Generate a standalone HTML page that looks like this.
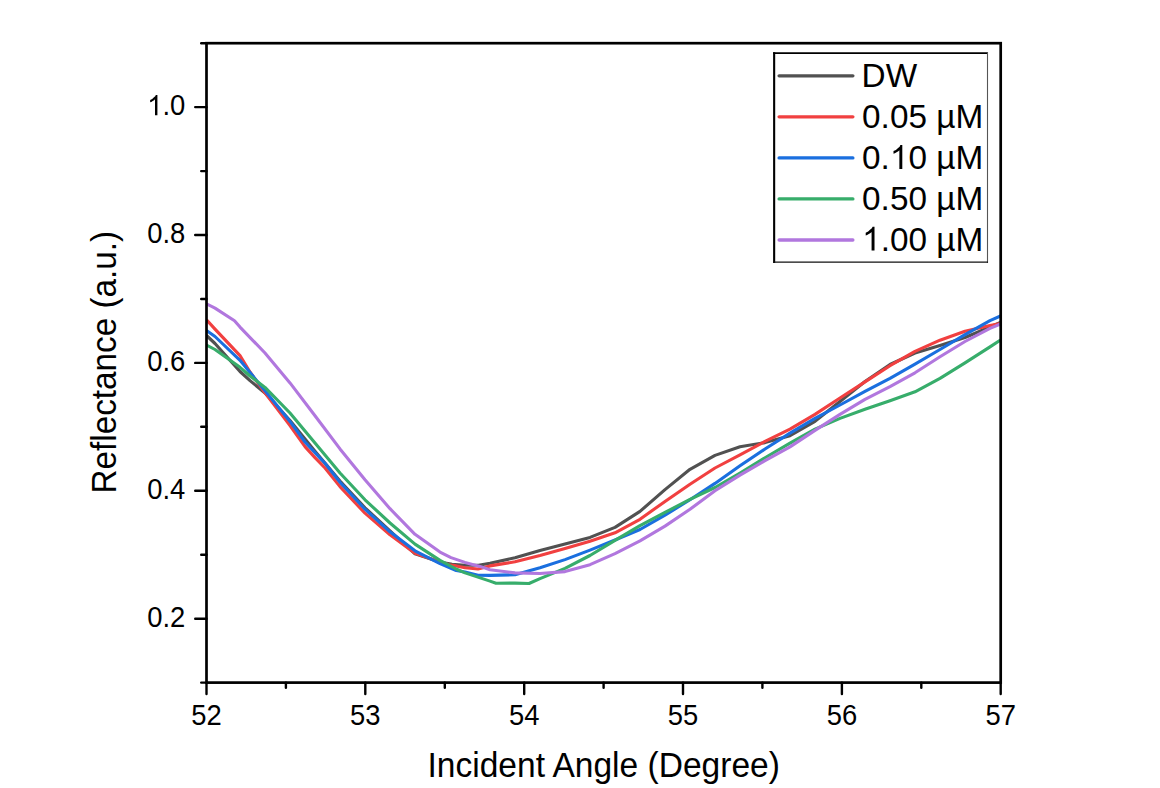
<!DOCTYPE html>
<html><head><meta charset="utf-8"><style>
html,body{margin:0;padding:0;background:#fff;overflow:hidden;}
svg{display:block;}
text{font-family:"Liberation Sans",sans-serif;fill:#000;}
.tk{font-size:29.0px;}
.ti{font-size:34.7px;}
.lg{font-size:34.1px;}
</style></head><body>
<svg width="1160" height="788" viewBox="0 0 1160 788">
<defs><clipPath id="c"><rect x="206.5" y="43.2" width="794.2" height="639.4"/></clipPath></defs>
<rect x="0" y="0" width="1160" height="788" fill="#fff"/>
<g fill="none" stroke-width="3.1" stroke-linejoin="round" stroke-linecap="butt" clip-path="url(#c)">
<polyline stroke="#515151" points="206.5,335.5 215.0,343.5 240.0,371.5 250.0,380.6 265.0,393.0 290.0,420.5 315.0,451.3 340.0,481.0 365.0,507.8 390.0,530.8 415.0,553.8 440.0,562.0 452.0,564.3 465.0,565.3 478.6,565.2 490.0,563.3 515.0,557.7 540.0,550.4 565.0,544.0 590.0,537.4 615.0,527.4 640.0,511.4 665.0,489.6 690.0,469.3 715.0,455.4 740.0,446.7 765.0,442.6 790.0,435.7 815.0,421.3 840.0,401.5 865.0,381.5 890.0,364.5 915.0,353.0 940.0,345.5 965.0,337.5 990.0,327.0 1000.5,322.3"/>
<polyline stroke="#F14040" points="206.5,319.7 215.0,329.1 240.0,355.6 250.0,372.0 265.0,392.8 290.0,425.6 305.0,446.6 315.0,457.6 325.0,468.0 340.0,486.6 365.0,513.2 390.0,534.8 415.0,553.2 440.0,562.0 449.0,564.8 456.2,565.9 465.0,567.8 478.0,569.0 490.0,565.9 515.0,561.8 540.0,555.4 565.0,548.4 590.0,541.2 615.0,532.8 640.0,519.3 665.0,501.4 690.0,484.2 715.0,468.0 740.0,454.9 765.0,441.4 790.0,429.1 815.0,414.4 840.0,398.0 865.0,381.9 890.0,365.7 915.0,351.4 940.0,340.2 965.0,331.2 990.0,325.6 1000.5,323.4"/>
<polyline stroke="#1A6FDF" points="206.5,330.5 215.0,336.5 240.0,360.3 265.0,390.7 290.0,421.4 305.0,442.0 315.0,452.6 325.0,463.2 340.0,482.3 365.0,509.2 390.0,531.8 415.0,550.8 440.0,563.6 456.2,570.5 465.0,572.0 478.0,575.2 490.0,575.4 515.0,574.8 540.0,567.8 565.0,559.6 590.0,550.1 615.0,540.0 640.0,529.5 665.0,515.1 690.0,499.8 715.0,483.4 740.0,465.8 765.0,449.0 790.0,433.1 815.0,418.4 840.0,405.0 865.0,391.4 890.0,378.3 915.0,364.2 940.0,349.5 965.0,334.6 990.0,320.7 1000.5,316.0"/>
<polyline stroke="#37AD6B" points="206.5,345.0 215.0,349.5 240.0,367.3 250.0,376.0 265.0,387.4 290.0,413.0 315.0,443.0 340.0,473.0 365.0,499.8 390.0,523.0 415.0,544.1 440.0,560.4 456.2,569.0 465.0,572.9 490.0,581.1 496.0,583.3 515.0,583.1 529.0,583.5 540.0,578.6 565.0,568.4 590.0,555.5 615.0,540.4 640.0,525.6 665.0,512.4 690.0,499.4 715.0,487.5 740.0,473.0 765.0,457.8 790.0,443.2 815.0,429.1 840.0,418.4 865.0,409.3 890.0,400.7 915.0,391.8 940.0,378.4 965.0,362.9 990.0,346.9 1000.5,340.0"/>
<polyline stroke="#B177DE" points="206.5,303.8 215.0,308.1 234.5,320.8 240.0,327.1 265.0,353.0 290.0,382.9 315.0,415.7 340.0,448.9 365.0,479.7 390.0,508.7 415.0,534.3 440.0,552.1 451.0,557.6 465.0,562.4 480.0,566.4 490.0,569.7 515.0,572.9 540.0,573.5 565.0,571.6 590.0,564.7 615.0,553.7 640.0,540.9 665.0,526.1 690.0,509.3 715.0,490.7 740.0,475.1 765.0,460.7 790.0,446.9 815.0,430.4 840.0,414.4 865.0,399.4 890.0,386.7 915.0,372.8 940.0,356.8 965.0,341.5 990.0,328.4 1000.5,324.0"/>
</g>
<rect x="206.5" y="43.2" width="794.2" height="639.4" fill="none" stroke="#000" stroke-width="2.7"/>
<line x1="201.20" y1="682.6" x2="206.5" y2="682.6" stroke="#000" stroke-width="2.4" stroke-linecap="round"/>
<line x1="195.20" y1="618.7" x2="206.5" y2="618.7" stroke="#000" stroke-width="2.4" stroke-linecap="round"/>
<line x1="201.20" y1="554.7" x2="206.5" y2="554.7" stroke="#000" stroke-width="2.4" stroke-linecap="round"/>
<line x1="195.20" y1="490.8" x2="206.5" y2="490.8" stroke="#000" stroke-width="2.4" stroke-linecap="round"/>
<line x1="201.20" y1="426.8" x2="206.5" y2="426.8" stroke="#000" stroke-width="2.4" stroke-linecap="round"/>
<line x1="195.20" y1="362.9" x2="206.5" y2="362.9" stroke="#000" stroke-width="2.4" stroke-linecap="round"/>
<line x1="201.20" y1="299.0" x2="206.5" y2="299.0" stroke="#000" stroke-width="2.4" stroke-linecap="round"/>
<line x1="195.20" y1="235.0" x2="206.5" y2="235.0" stroke="#000" stroke-width="2.4" stroke-linecap="round"/>
<line x1="201.20" y1="171.1" x2="206.5" y2="171.1" stroke="#000" stroke-width="2.4" stroke-linecap="round"/>
<line x1="195.20" y1="107.1" x2="206.5" y2="107.1" stroke="#000" stroke-width="2.4" stroke-linecap="round"/>
<line x1="201.20" y1="43.2" x2="206.5" y2="43.2" stroke="#000" stroke-width="2.4" stroke-linecap="round"/>
<line x1="206.5" y1="682.6" x2="206.5" y2="694.10" stroke="#000" stroke-width="2.4" stroke-linecap="round"/>
<line x1="285.9" y1="682.6" x2="285.9" y2="687.70" stroke="#000" stroke-width="2.4" stroke-linecap="round"/>
<line x1="365.3" y1="682.6" x2="365.3" y2="694.10" stroke="#000" stroke-width="2.4" stroke-linecap="round"/>
<line x1="444.8" y1="682.6" x2="444.8" y2="687.70" stroke="#000" stroke-width="2.4" stroke-linecap="round"/>
<line x1="524.2" y1="682.6" x2="524.2" y2="694.10" stroke="#000" stroke-width="2.4" stroke-linecap="round"/>
<line x1="603.6" y1="682.6" x2="603.6" y2="687.70" stroke="#000" stroke-width="2.4" stroke-linecap="round"/>
<line x1="683.0" y1="682.6" x2="683.0" y2="694.10" stroke="#000" stroke-width="2.4" stroke-linecap="round"/>
<line x1="762.4" y1="682.6" x2="762.4" y2="687.70" stroke="#000" stroke-width="2.4" stroke-linecap="round"/>
<line x1="841.9" y1="682.6" x2="841.9" y2="694.10" stroke="#000" stroke-width="2.4" stroke-linecap="round"/>
<line x1="921.3" y1="682.6" x2="921.3" y2="687.70" stroke="#000" stroke-width="2.4" stroke-linecap="round"/>
<line x1="1000.7" y1="682.6" x2="1000.7" y2="694.10" stroke="#000" stroke-width="2.4" stroke-linecap="round"/>
<path d="M157.41,115.14 L155.00,115.14 L155.00,99.36 L154.13,100.21 L152.72,101.07 L151.30,101.92 L150.17,102.35 L150.17,99.95 L152.19,98.98 L153.71,97.59 L155.22,96.20 L155.85,94.89 L157.41,94.89Z" fill="#000"/>
<rect x="774" y="53" width="213.5" height="209" fill="#fff" stroke="none"/>
<line x1="774.15" y1="52.2" x2="774.15" y2="263" stroke="#000" stroke-width="2.1"/>
<line x1="773.1" y1="53.05" x2="988" y2="53.05" stroke="#000" stroke-width="1.7"/>
<line x1="987.5" y1="52.2" x2="987.5" y2="263" stroke="#555" stroke-width="1.1"/>
<line x1="773.1" y1="262.2" x2="988" y2="262.2" stroke="#111" stroke-width="1.3"/>
<line x1="779.1" y1="75.8" x2="852.9" y2="75.8" stroke="#515151" stroke-width="3.3" stroke-linecap="round"/>
<line x1="779.1" y1="116.8" x2="852.9" y2="116.8" stroke="#F14040" stroke-width="3.3" stroke-linecap="round"/>
<line x1="779.1" y1="157.9" x2="852.9" y2="157.9" stroke="#1A6FDF" stroke-width="3.3" stroke-linecap="round"/>
<path d="M902.30,168.90 L899.37,168.90 L899.37,150.35 L898.31,151.35 L896.59,152.35 L894.86,153.36 L893.50,153.86 L893.50,151.04 L895.95,149.89 L897.79,148.26 L899.63,146.63 L900.39,145.09 L902.30,145.09Z" fill="#000"/>
<line x1="779.1" y1="198.9" x2="852.9" y2="198.9" stroke="#37AD6B" stroke-width="3.3" stroke-linecap="round"/>
<line x1="779.1" y1="240.0" x2="852.9" y2="240.0" stroke="#B177DE" stroke-width="3.3" stroke-linecap="round"/>
<path d="M874.51,250.50 L871.58,250.50 L871.58,231.95 L870.53,232.95 L868.80,233.95 L867.08,234.96 L865.71,235.46 L865.71,232.64 L868.17,231.49 L870.01,229.86 L871.84,228.23 L872.61,226.69 L874.51,226.69Z" fill="#000"/>
<text x="185.3" y="626.7" text-anchor="end" class="tk" textLength="38.10" lengthAdjust="spacingAndGlyphs">0.2</text>
<text x="185.3" y="498.8" text-anchor="end" class="tk" textLength="38.10" lengthAdjust="spacingAndGlyphs">0.4</text>
<text x="185.3" y="370.9" text-anchor="end" class="tk" textLength="38.10" lengthAdjust="spacingAndGlyphs">0.6</text>
<text x="185.3" y="243.0" text-anchor="end" class="tk" textLength="38.10" lengthAdjust="spacingAndGlyphs">0.8</text>
<text x="185.3" y="115.1" text-anchor="end" class="tk" textLength="22.86" lengthAdjust="spacingAndGlyphs">.0</text>
<text x="206.5" y="725.1" text-anchor="middle" class="tk" textLength="30.48" lengthAdjust="spacingAndGlyphs">52</text>
<text x="365.3" y="725.1" text-anchor="middle" class="tk" textLength="30.48" lengthAdjust="spacingAndGlyphs">53</text>
<text x="524.2" y="725.1" text-anchor="middle" class="tk" textLength="30.48" lengthAdjust="spacingAndGlyphs">54</text>
<text x="683.0" y="725.1" text-anchor="middle" class="tk" textLength="30.48" lengthAdjust="spacingAndGlyphs">55</text>
<text x="841.9" y="725.1" text-anchor="middle" class="tk" textLength="30.48" lengthAdjust="spacingAndGlyphs">56</text>
<text x="1000.7" y="725.1" text-anchor="middle" class="tk" textLength="30.48" lengthAdjust="spacingAndGlyphs">57</text>
<text x="427.5" y="777" class="ti" textLength="352.4" lengthAdjust="spacingAndGlyphs">Incident Angle (Degree)</text>
<text transform="translate(115.5,493.4) rotate(-90)" x="0" y="0" class="ti" textLength="262.4" lengthAdjust="spacingAndGlyphs">Reflectance (a.u.)</text>
<text x="861.60" y="87.3" class="lg" textLength="55.50" lengthAdjust="spacingAndGlyphs">DW</text>
<text x="862.10" y="128.1" class="lg" textLength="121.05" lengthAdjust="spacingAndGlyphs">0.05 µM</text>
<text x="862.10" y="168.9" class="lg" textLength="27.78" lengthAdjust="spacingAndGlyphs">0.</text>
<text x="908.41" y="168.9" class="lg" textLength="74.73" lengthAdjust="spacingAndGlyphs">0 µM</text>
<text x="862.10" y="209.7" class="lg" textLength="121.05" lengthAdjust="spacingAndGlyphs">0.50 µM</text>
<text x="880.63" y="250.5" class="lg" textLength="102.52" lengthAdjust="spacingAndGlyphs">.00 µM</text>
</svg>
</body></html>
